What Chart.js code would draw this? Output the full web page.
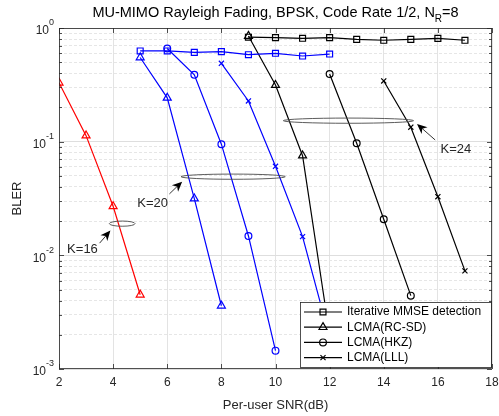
<!DOCTYPE html>
<html>
<head>
<meta charset="utf-8">
<script src="https://cdn.jsdelivr.net/npm/chart.js@4.4.0/dist/chart.umd.min.js"></script>
<style>
  html, body { margin: 0; padding: 0; background: #fff; }
  #wrap { width: 499px; height: 416px; }
</style>
</head>
<body>
<div id="wrap"><canvas id="blerChart" width="499" height="416"></canvas></div>
<script>
// axis ticks
const xTicks = [2, 4, 6, 8, 10, 12, 14, 16, 18];
const yDecades = [0.001, 0.01, 0.1, 1];

// K = 16
const snrRcsdK16 = [2, 3, 4, 5];
const rcsdK16 = [0.33, 0.113, 0.027, 0.0045];

// K = 20
const snrMmseK20 = [5, 6, 7, 8, 9, 10, 11, 12];
const mmseK20 = [0.628, 0.628, 0.611, 0.62, 0.582, 0.599, 0.567, 0.59];
const snrRcsdK20 = [5, 6, 7, 8];
const rcsdK20 = [0.55, 0.243, 0.0316, 0.0036];
const snrHkzK20 = [6, 7, 8, 9, 10];
const hkzK20 = [0.66, 0.387, 0.095, 0.0148, 0.00145];
const snrLllK20 = [8, 9, 10, 11, 12];
const lllK20 = [0.489, 0.228, 0.0607, 0.0146, 0.0019];

// K = 24
const snrMmseK24 = [9, 10, 11, 12, 13, 14, 15, 16, 17];
const mmseK24 = [0.83, 0.822, 0.812, 0.822, 0.795, 0.78, 0.795, 0.81, 0.78];
const snrRcsdK24 = [9, 10, 11, 12];
const rcsdK24 = [0.85, 0.315, 0.0753, 0.002];
const snrHkzK24 = [12, 13, 14, 15];
const hkzK24 = [0.394, 0.0968, 0.0208, 0.00442];
const snrLllK24 = [14, 15, 16, 17];
const lllK24 = [0.342, 0.134, 0.0328, 0.0073];

const legendNames = ['Iterative MMSE detection', 'LCMA(RC-SD)', 'LCMA(HKZ)', 'LCMA(LLL)'];

// annotations (data coordinates)
const groupEllipses = [
    { xFrom: 3.86, xTo: 4.81, y: 0.019 },
    { xFrom: 6.51, xTo: 10.36, y: 0.0492 },
    { xFrom: 10.29, xTo: 15.1, y: 0.153 }
];
const groupArrows = [
    { from: [3.5, 0.0128], to: [3.9, 0.0165] },
    { from: [6.08, 0.0347], to: [6.55, 0.0445] },
    { from: [15.9, 0.1035], to: [15.23, 0.143] }
];
const groupLabels = [
    { text: 'K=16', x: 2.3, y: 0.0112 },
    { text: 'K=20', x: 4.89, y: 0.0289 },
    { text: 'K=24', x: 16.1, y: 0.0863 }
];

const FONT = '"Liberation Sans", Arial, Helvetica, sans-serif';
const TEXT = '#262626';

const markers = {
    mmse: { pointStyle: 'rect', pointRadius: 4.2 },
    rcsd: { pointStyle: 'triangle', pointRadius: 4.6 },
    hkz: { pointStyle: 'circle', pointRadius: 3.4 },
    lll: { pointStyle: 'crossRot', pointRadius: 3.6 }
};

function series(xs, ys, color, kind) {
    return {
        data: xs.map((x, i) => ({ x: x, y: ys[i] })),
        borderColor: color,
        backgroundColor: 'rgba(0,0,0,0)',
        pointBackgroundColor: 'rgba(0,0,0,0)',
        pointBorderColor: color,
        borderWidth: 1.2,
        pointBorderWidth: 1.2,
        tension: 0,
        fill: false,
        ...markers[kind]
    };
}

const datasets = [
    series(snrRcsdK16, rcsdK16, '#ff0000', 'rcsd'),
    series(snrMmseK20, mmseK20, '#0000ff', 'mmse'),
    series(snrRcsdK20, rcsdK20, '#0000ff', 'rcsd'),
    series(snrHkzK20, hkzK20, '#0000ff', 'hkz'),
    series(snrLllK20, lllK20, '#0000ff', 'lll'),
    series(snrMmseK24, mmseK24, '#000000', 'mmse'),
    series(snrRcsdK24, rcsdK24, '#000000', 'rcsd'),
    series(snrHkzK24, hkzK24, '#000000', 'hkz'),
    series(snrLllK24, lllK24, '#000000', 'lll')
];

function isDecade(v) {
    return yDecades.some(d => Math.abs(v / d - 1) < 1e-6);
}

function drawMarker(ctx, kind, x, y, color) {
    ctx.save();
    ctx.strokeStyle = color;
    ctx.fillStyle = 'rgba(0,0,0,0)';
    ctx.lineWidth = 1.2;
    Chart.helpers.drawPoint(ctx, {
        pointStyle: markers[kind].pointStyle,
        radius: markers[kind].pointRadius,
        rotation: 0,
        borderWidth: 1.2
    }, x, y);
    ctx.restore();
}

function arrow(ctx, x0, y0, x1, y1) {
    const ang = Math.atan2(y1 - y0, x1 - x0);
    const len = 10, half = 4.5, back = 7;
    ctx.beginPath();
    ctx.moveTo(x0, y0);
    ctx.lineTo(x1 - Math.cos(ang) * back, y1 - Math.sin(ang) * back);
    ctx.stroke();
    ctx.beginPath();
    ctx.moveTo(x1, y1);
    ctx.lineTo(x1 - Math.cos(ang) * len - Math.sin(ang) * half, y1 - Math.sin(ang) * len + Math.cos(ang) * half);
    ctx.lineTo(x1 - Math.cos(ang) * back, y1 - Math.sin(ang) * back);
    ctx.lineTo(x1 - Math.cos(ang) * len + Math.sin(ang) * half, y1 - Math.sin(ang) * len - Math.cos(ang) * half);
    ctx.closePath();
    ctx.fill();
}

const matlabLook = {
    id: 'matlabLook',
    afterDatasetsDraw(chart) {
        const { ctx, scales: { x, y } } = chart;
        ctx.save();
        // group ellipses
        ctx.strokeStyle = '#4a4a4a';
        ctx.lineWidth = 0.9;
        groupEllipses.forEach(e => {
            const x0 = x.getPixelForValue(e.xFrom), x1 = x.getPixelForValue(e.xTo);
            ctx.beginPath();
            ctx.ellipse((x0 + x1) / 2, y.getPixelForValue(e.y), (x1 - x0) / 2, 2.6, 0, 0, Math.PI * 2);
            ctx.stroke();
        });
        // arrows
        ctx.strokeStyle = '#000';
        ctx.fillStyle = '#000';
        ctx.lineWidth = 0.8;
        groupArrows.forEach(a => {
            arrow(ctx, x.getPixelForValue(a.from[0]), y.getPixelForValue(a.from[1]),
                x.getPixelForValue(a.to[0]), y.getPixelForValue(a.to[1]));
        });
        // labels
        ctx.fillStyle = TEXT;
        ctx.font = '13px ' + FONT;
        ctx.textAlign = 'left';
        ctx.textBaseline = 'middle';
        groupLabels.forEach(l => {
            ctx.fillText(l.text, x.getPixelForValue(l.x), y.getPixelForValue(l.y));
        });
        ctx.restore();
    },
    afterDraw(chart) {
        const { ctx, chartArea: a, scales: { x, y } } = chart;
        ctx.save();

        // axes box and inward ticks
        ctx.strokeStyle = '#262626';
        ctx.lineWidth = 0.8;
        ctx.strokeRect(a.left + 0.5, a.top + 0.5, a.right - a.left - 1, a.bottom - a.top - 1);
        ctx.beginPath();
        xTicks.forEach(v => {
            const px = Math.round(x.getPixelForValue(v)) + 0.5;
            ctx.moveTo(px, a.bottom); ctx.lineTo(px, a.bottom - 5);
            ctx.moveTo(px, a.top); ctx.lineTo(px, a.top + 5);
        });
        y.ticks.forEach(t => {
            const py = Math.round(y.getPixelForValue(t.value)) + 0.5;
            const len = isDecade(t.value) ? 5 : 3;
            ctx.moveTo(a.left, py); ctx.lineTo(a.left + len, py);
            ctx.moveTo(a.right, py); ctx.lineTo(a.right - len, py);
        });
        ctx.stroke();

        // x tick labels
        ctx.fillStyle = TEXT;
        ctx.font = '12px ' + FONT;
        ctx.textAlign = 'center';
        ctx.textBaseline = 'middle';
        xTicks.forEach(v => {
            ctx.fillText(String(v), x.getPixelForValue(v), a.bottom + 14);
        });

        // y tick labels 10^n
        yDecades.forEach(d => {
            const py = y.getPixelForValue(d);
            const exp = String(Math.round(Math.log10(d)));
            ctx.font = '9px ' + FONT;
            const ew = ctx.measureText(exp).width;
            ctx.textAlign = 'right';
            ctx.fillText(exp, a.left - 5, py - 5);
            ctx.font = '12px ' + FONT;
            ctx.fillText('10', a.left - 5 - ew, py + 3);
        });

        // axis titles
        ctx.font = '13px ' + FONT;
        ctx.textAlign = 'center';
        ctx.fillText('Per-user SNR(dB)', (a.left + a.right) / 2, 405);
        ctx.save();
        ctx.translate(17, (a.top + a.bottom) / 2);
        ctx.rotate(-Math.PI / 2);
        ctx.fillText('BLER', 0, 0);
        ctx.restore();

        // chart title with subscript
        ctx.fillStyle = '#000';
        const main = 'MU-MIMO Rayleigh Fading, BPSK, Code Rate 1/2, N';
        ctx.font = '14.5px ' + FONT;
        const w1 = ctx.measureText(main).width;
        const w3 = ctx.measureText('=8').width;
        ctx.font = '10px ' + FONT;
        const w2 = ctx.measureText('R').width;
        let tx = (a.left + a.right) / 2 - (w1 + w2 + w3) / 2;
        ctx.textAlign = 'left';
        ctx.font = '14.5px ' + FONT;
        ctx.fillText(main, tx, 13);
        ctx.font = '10px ' + FONT;
        ctx.fillText('R', tx + w1, 19);
        ctx.font = '14.5px ' + FONT;
        ctx.fillText('=8', tx + w1 + w2, 13);

        // legend
        const lw = 191, lh = 65;
        const lx = a.right - lw - 1, ly = a.bottom - lh - 2;
        ctx.fillStyle = '#fff';
        ctx.fillRect(lx, ly, lw, lh);
        ctx.strokeStyle = '#262626';
        ctx.lineWidth = 0.8;
        ctx.strokeRect(lx + 0.5, ly + 0.5, lw, lh);
        ['mmse', 'rcsd', 'hkz', 'lll'].forEach((kind, i) => {
            const ry = ly + 10 + i * 15.2;
            ctx.strokeStyle = '#000';
            ctx.lineWidth = 1.2;
            ctx.beginPath();
            ctx.moveTo(lx + 4, ry); ctx.lineTo(lx + 42, ry);
            ctx.stroke();
            drawMarker(ctx, kind, lx + 23, ry, '#000');
            ctx.fillStyle = '#000';
            ctx.font = '12px ' + FONT;
            ctx.textAlign = 'left';
            ctx.textBaseline = 'middle';
            ctx.fillText(legendNames[i], lx + 47, ry);
        });
        ctx.restore();
    }
};

new Chart(document.getElementById('blerChart'), {
    type: 'line',
    data: { datasets: datasets },
    options: {
        responsive: false,
        animation: false,
        devicePixelRatio: 1,
        layout: { padding: { left: 59, top: 28, right: 7, bottom: 0 } },
        plugins: {
            legend: { display: false },
            title: { display: false },
            tooltip: { enabled: false }
        },
        scales: {
            x: {
                type: 'linear',
                min: 2,
                max: 18,
                afterBuildTicks: s => { s.ticks = xTicks.map(v => ({ value: v })); },
                afterFit: s => { s.height = 47; },
                grid: { color: '#e3e3e3', lineWidth: 1, drawTicks: false },
                border: { display: false },
                ticks: { display: false }
            },
            y: {
                type: 'logarithmic',
                min: 0.001,
                max: 1,
                afterBuildTicks: s => {
                    const t = [];
                    yDecades.forEach(d => {
                        t.push({ value: d });
                        if (d < 1) for (let m = 2; m <= 9; m++) t.push({ value: d * m });
                    });
                    s.ticks = t;
                },
                afterFit: s => { s.width = 0; },
                grid: {
                    drawTicks: false,
                    color: c => (c.tick && isDecade(c.tick.value)) ? '#dedede' : '#e6e6e6'
                },
                border: {
                    display: false,
                    dash: c => (c.tick && !isDecade(c.tick.value)) ? [3, 2] : []
                },
                ticks: { display: false }
            }
        }
    },
    plugins: [matlabLook]
});
</script>
</body>
</html>
